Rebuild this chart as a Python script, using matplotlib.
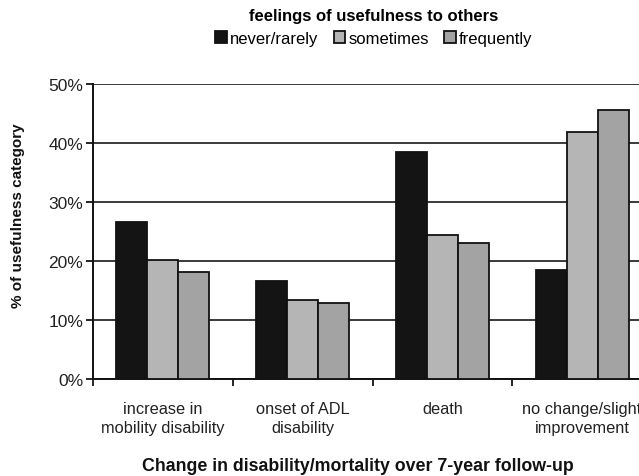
import matplotlib
matplotlib.use("Agg")
import matplotlib.pyplot as plt
import numpy as np

plt.rcParams['font.family'] = ['Liberation Sans', 'DejaVu Sans']

categories = ["increase in\nmobility disability", "onset of ADL\ndisability", "death",
              "no change/slight\nimprovement"]
series_names = ["never/rarely", "sometimes", "frequently"]
never_rarely = [26.6, 16.6, 38.4, 18.4]
sometimes = [20.2, 13.4, 24.4, 41.8]
frequently = [18.2, 12.8, 23.1, 45.6]
colors = ["#141414", "#b5b5b5", "#a3a3a3"]

fig = plt.figure(figsize=(6.39, 4.77), dpi=100)
ax = fig.add_axes([93/639, 1-380/477, 559/639, 295/477])

x = np.arange(len(categories))
w = 0.222
for i, (vals, c, name) in enumerate(zip([never_rarely, sometimes, frequently], colors, series_names)):
    ax.bar(x + (i-1)*w, vals, w, color=c, edgecolor="#111111", linewidth=1.3, label=name, zorder=3)

ax.set_xlim(-0.5, len(categories)-0.5)
ax.set_ylim(0, 50)
ax.set_yticks([0, 10, 20, 30, 40, 50])
ax.set_yticklabels([f"{v}%" for v in [0, 10, 20, 30, 40, 50]], fontsize=12.5, color="#222222")
ax.yaxis.grid(True, color="#3a3a3a", linewidth=1.4, zorder=0)
ax.set_axisbelow(True)

ax.set_xticks(np.arange(len(categories)+1)-0.5)
ax.set_xticklabels([])
ax.set_xticks(x, minor=True)
ax.set_xticklabels(categories, minor=True, fontsize=11.8, color="#222222", linespacing=1.35)
ax.tick_params(axis='x', which='minor', length=0, pad=16)
ax.tick_params(axis='x', which='major', length=5, width=1.2, direction='out')
ax.tick_params(axis='y', length=5, width=1.2, direction='out', pad=2)

for s in ['top', 'right']:
    ax.spines[s].set_visible(False)
for s in ['left', 'bottom']:
    ax.spines[s].set_linewidth(1.4)
    ax.spines[s].set_color("#111111")

fig.text(358/639, 1-467/477, "Change in disability/mortality over 7-year follow-up",
         ha='center', va='center', fontsize=12.8, fontweight='bold', color="#111111")
fig.text(18/639, 1-216/477, "% of usefulness category", rotation=90,
         ha='center', va='center', fontsize=11, fontweight='bold', color="#111111")

leg = fig.legend(loc='upper center', bbox_to_anchor=(374/639, 1+3/477), ncol=3,
                 title="feelings of usefulness to others", frameon=False,
                 fontsize=12, handlelength=0.7, handleheight=0.7, handletextpad=0.2,
                 columnspacing=0.9, borderpad=0.2, labelspacing=0.2)
leg.get_title().set_fontweight('bold')
leg.get_title().set_fontsize(12)
leg._legend_box.sep = 6

fig.savefig("out.png", dpi=100)
